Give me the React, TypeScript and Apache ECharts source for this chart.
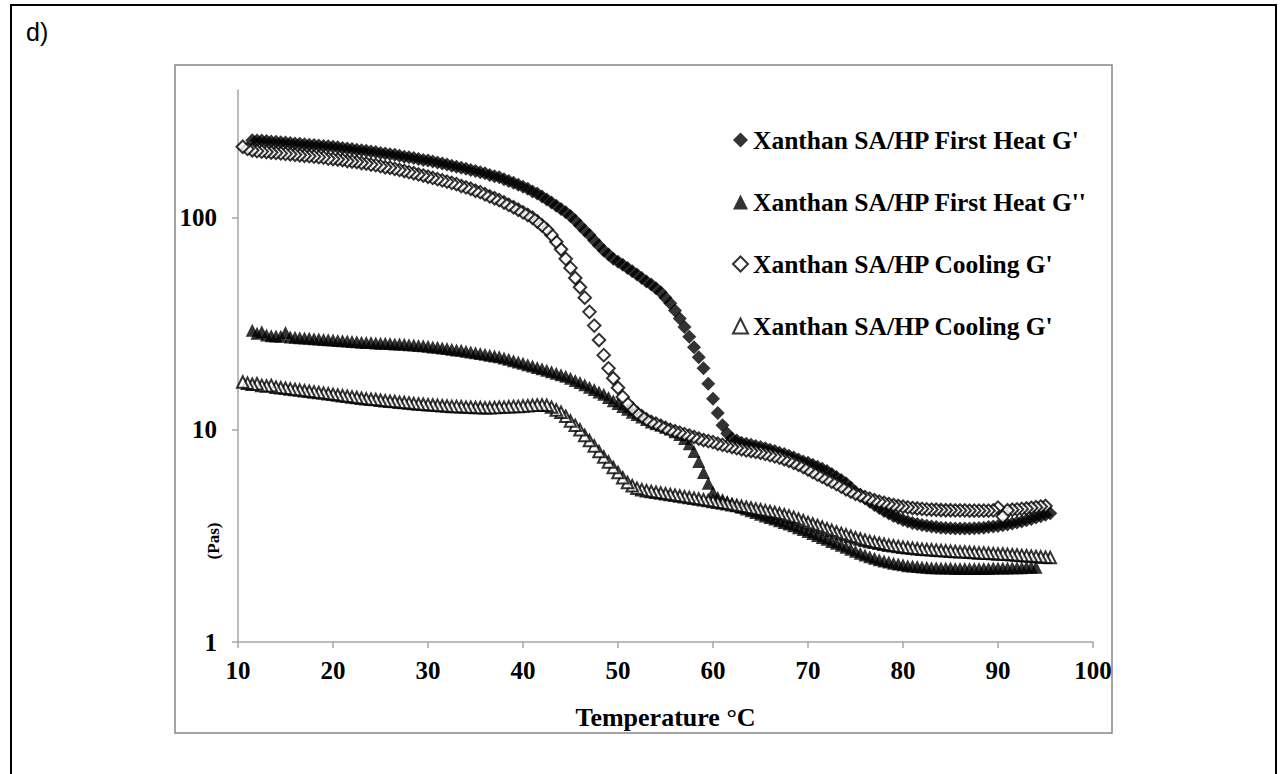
import { useEffect, useRef } from 'react';
import * as echarts from 'echarts';

// Temperature (°C) sampling points shared by all four series
const temperatures = [
  10.5, 11, 11.5, 12, 12.5, 13, 13.5, 14, 14.5, 15,
  15.5, 16, 16.5, 17, 17.5, 18, 18.5, 19, 19.5, 20,
  20.5, 21, 21.5, 22, 22.5, 23, 23.5, 24, 24.5, 25,
  25.5, 26, 26.5, 27, 27.5, 28, 28.5, 29, 29.5, 30,
  30.5, 31, 31.5, 32, 32.5, 33, 33.5, 34, 34.5, 35,
  35.5, 36, 36.5, 37, 37.5, 38, 38.5, 39, 39.5, 40,
  40.5, 41, 41.5, 42, 42.5, 43, 43.5, 44, 44.5, 45,
  45.5, 46, 46.5, 47, 47.5, 48, 48.5, 49, 49.5, 50,
  50.5, 51, 51.5, 52, 52.5, 53, 53.5, 54, 54.5, 55,
  55.5, 56, 56.5, 57, 57.5, 58, 58.5, 59, 59.5, 60,
  60.5, 61, 61.5, 62, 62.5, 63, 63.5, 64, 64.5, 65,
  65.5, 66, 66.5, 67, 67.5, 68, 68.5, 69, 69.5, 70,
  70.5, 71, 71.5, 72, 72.5, 73, 73.5, 74, 74.5, 75,
  75.5, 76, 76.5, 77, 77.5, 78, 78.5, 79, 79.5, 80,
  80.5, 81, 81.5, 82, 82.5, 83, 83.5, 84, 84.5, 85,
  85.5, 86, 86.5, 87, 87.5, 88, 88.5, 89, 89.5, 90,
  90.5, 91, 91.5, 92, 92.5, 93, 93.5, 94, 94.5, 95,
  95.5,
];

// Xanthan SA/HP First Heat G' (Pa s)
const firstHeatGp = [
  null, null, 232, 231, 231, 230, 229, 228, 227, 226,
  225, 224, 223, 222, 221, 220, 219, 218, 217, 216,
  215, 213, 212, 211, 209, 208, 207, 205, 204, 202,
  201, 199, 198, 196, 194, 193, 191, 189, 187, 186,
  184, 182, 180, 178, 176, 174, 172, 170, 168, 166,
  164, 162, 159, 157, 155, 152, 149, 146, 143, 140,
  137, 133, 130, 126, 122, 118, 114, 110, 106, 102,
  97, 92, 87, 83, 78, 74, 70, 67, 64, 62,
  60, 58, 56, 54, 52, 50, 48.5, 46.5, 44.5, 42,
  39.5, 36.5, 33.5, 30.5, 27.5, 24.5, 22, 19.5, 16.5, 14,
  12, 10.5, 9.6, 9.1, 8.9, 8.7, 8.6, 8.5, 8.4, 8.3,
  8.2, 8.05, 7.95, 7.8, 7.7, 7.55, 7.4, 7.25, 7.1, 7.0,
  6.85, 6.7, 6.55, 6.4, 6.2, 6.0, 5.8, 5.6, 5.35, 5.1,
  4.95, 4.75, 4.58, 4.42, 4.28, 4.15, 4.03, 3.93, 3.84, 3.76,
  3.7, 3.64, 3.6, 3.56, 3.53, 3.5, 3.48, 3.46, 3.45, 3.44,
  3.43, 3.43, 3.43, 3.43, 3.44, 3.45, 3.46, 3.48, 3.5, 3.52,
  3.55, 3.58, 3.62, 3.66, 3.7, 3.75, 3.8, 3.86, 3.92, 3.98,
  4.04,
];

// Xanthan SA/HP First Heat G'' (Pa s)
const firstHeatGpp = [
  null, null, 29.5, 28.5, 29.0, 28.0, 27.8, 27.7, 27.6, 28.8,
  27.4, 27.3, 27.2, 27.1, 27.0, 26.9, 26.8, 26.7, 26.6, 26.5,
  26.4, 26.3, 26.2, 26.1, 26.0, 25.9, 25.8, 25.8, 25.7, 25.6,
  25.6, 25.5, 25.4, 25.4, 25.3, 25.2, 25.1, 25.0, 24.9, 24.8,
  24.6, 24.5, 24.3, 24.2, 24.0, 23.8, 23.7, 23.5, 23.3, 23.1,
  22.9, 22.7, 22.5, 22.3, 22.1, 21.8, 21.5, 21.2, 20.9, 20.6,
  20.3, 20.0, 19.7, 19.4, 19.1, 18.8, 18.5, 18.2, 17.9, 17.5,
  17.1, 16.7, 16.3, 15.9, 15.5, 15.1, 14.7, 14.2, 13.7, 13.3,
  12.9, 12.5, 12.1, 11.8, 11.5, 11.2, 10.9, 10.7, 10.5, 10.3,
  10.1, 9.8, 9.5, 9.1, 8.6, 7.9, 7.1, 6.3, 5.6, 5.1,
  4.8, 4.7, 4.6, 4.5, 4.4, 4.32, 4.24, 4.16, 4.08, 4.0,
  3.93, 3.86, 3.8, 3.73, 3.66, 3.6, 3.53, 3.46, 3.39, 3.32,
  3.25, 3.18, 3.11, 3.05, 2.98, 2.92, 2.86, 2.8, 2.74, 2.68,
  2.62, 2.57, 2.52, 2.48, 2.44, 2.41, 2.38, 2.35, 2.33, 2.31,
  2.29, 2.28, 2.27, 2.26, 2.25, 2.24, 2.24, 2.23, 2.23, 2.23,
  2.22, 2.22, 2.22, 2.22, 2.22, 2.22, 2.22, 2.22, 2.23, 2.23,
  2.23, 2.23, 2.24, 2.24, 2.24, 2.25, 2.25, 2.25, null, null,
  null,
];

// Xanthan SA/HP Cooling G' (Pa s)
const coolingGp = [
  216, 211, 208, 206, 205, 204, 203, 202, 201, 200,
  199, 198, 197, 196, 195, 194, 193, 192, 190, 189,
  188, 187, 185, 184, 183, 181, 180, 178, 177, 175,
  173, 172, 170, 168, 166, 164, 162, 160, 158, 156,
  154, 152, 150, 148, 146, 144, 141, 139, 137, 134,
  132, 129, 126, 123.5, 121, 118, 115, 112, 109, 106,
  103, 100, 96, 92, 88, 83, 77, 71, 64, 58,
  52, 47, 42, 36, 31, 26.5, 22.5, 19.5, 17.5, 15.8,
  14.3, 13.3, 12.6, 12.0, 11.6, 11.2, 10.9, 10.7, 10.45, 10.2,
  10.0, 9.85, 9.7, 9.55, 9.4, 9.25, 9.1, 8.95, 8.85, 8.75,
  8.6, 8.5, 8.4, 8.3, 8.2, 8.1, 8.0, 7.95, 7.87, 7.8,
  7.7, 7.6, 7.5, 7.4, 7.27, 7.15, 7.0, 6.85, 6.68, 6.5,
  6.32, 6.15, 6.0, 5.85, 5.7, 5.55, 5.4, 5.25, 5.12, 5.0,
  4.9, 4.82, 4.74, 4.66, 4.59, 4.53, 4.47, 4.42, 4.38, 4.34,
  4.31, 4.28, 4.26, 4.24, 4.22, 4.21, 4.2, 4.19, 4.18, 4.18,
  4.17, 4.17, 4.17, 4.16, 4.16, 4.16, 4.16, 4.16, 4.17, 4.3,
  3.9, 4.18, 4.2, 4.22, 4.24, 4.26, 4.29, 4.32, 4.35, 4.38,
  null,
];

// Xanthan SA/HP Cooling G'' (Pa s) — labelled "Cooling G'" in the original legend
const coolingGpp = [
  16.8, 16.6, 16.4, 16.5, 16.2, 16.1, 16.2, 15.9, 15.8, 15.7,
  15.6, 15.5, 15.4, 15.3, 15.2, 15.1, 15.0, 14.9, 14.8, 14.7,
  14.6, 14.5, 14.4, 14.3, 14.2, 14.1, 14.0, 13.95, 13.9, 13.8,
  13.7, 13.65, 13.6, 13.5, 13.45, 13.4, 13.3, 13.25, 13.2, 13.15,
  13.1, 13.05, 13.0, 12.95, 12.9, 12.9, 12.85, 12.8, 12.8, 12.75,
  12.75, 12.7, 12.7, 12.75, 12.8, 12.8, 12.85, 12.9, 12.9, 12.95,
  13.0, 13.05, 13.1, 13.1, 13.05, 12.8, 12.4, 12.1, 11.6, 11.0,
  10.5, 10.0, 9.4, 8.9, 8.4, 7.9, 7.45, 7.05, 6.65, 6.3,
  5.95, 5.65, 5.45, 5.3, 5.22, 5.17, 5.12, 5.08, 5.04, 5.0,
  4.96, 4.92, 4.88, 4.84, 4.8, 4.76, 4.72, 4.68, 4.64, 4.6,
  4.56, 4.52, 4.48, 4.44, 4.4, 4.36, 4.32, 4.28, 4.24, 4.2,
  4.16, 4.12, 4.08, 4.03, 3.98, 3.93, 3.87, 3.8, 3.73, 3.66,
  3.6, 3.54, 3.48, 3.42, 3.36, 3.3, 3.25, 3.2, 3.15, 3.1,
  3.06, 3.02, 2.98, 2.95, 2.92, 2.89, 2.86, 2.84, 2.82, 2.8,
  2.78, 2.77, 2.75, 2.74, 2.73, 2.72, 2.71, 2.7, 2.69, 2.68,
  2.67, 2.66, 2.66, 2.65, 2.64, 2.63, 2.63, 2.62, 2.61, 2.6,
  2.6, 2.59, 2.58, 2.57, 2.56, 2.55, 2.54, 2.53, 2.52, 2.51,
  2.5,
];

const seriesKeys = ['fhGp', 'fhGpp', 'coGp', 'coGpp'];
const legendLabels = [
  "Xanthan SA/HP First Heat G'",
  "Xanthan SA/HP First Heat G''",
  "Xanthan SA/HP Cooling G'",
  "Xanthan SA/HP Cooling G'",
];
const yTickValues = [1, 10, 100];
const xAxisTitle = 'Temperature °C';
const yAxisTitle = '(Pas)';
const panelLabel = 'd)';

const SERIF = '"Liberation Serif", "Times New Roman", serif';

function toPairs(values: (number | null)[], reverse: boolean) {
  const out: [number, number][] = [];
  temperatures.forEach((t, i) => {
    const v = values[i];
    if (v != null) out.push([t, v]);
  });
  return reverse ? out.reverse() : out;
}

export default function App() {
  const ref = useRef<HTMLDivElement>(null);

  useEffect(() => {
    if (!ref.current) return;
    const chart = echarts.init(ref.current, null, { renderer: 'svg' });
    const labelMap: Record<string, string> = {};
    seriesKeys.forEach((k, i) => (labelMap[k] = legendLabels[i]));

    const filled = { color: '#000' };
    const open = { color: '#fff', borderColor: '#000', borderWidth: 2 };

    chart.setOption({
      animation: false,
      backgroundColor: '#fff',
      textStyle: { fontFamily: SERIF },
      grid: { left: 238, right: 193, top: 90, bottom: 132, containLabel: false },
      xAxis: {
        type: 'value',
        min: 10,
        max: 100,
        interval: 10,
        axisLine: { show: true, lineStyle: { color: '#a6a6a6', width: 1.5 } },
        axisTick: { show: true, length: 6, lineStyle: { color: '#a6a6a6', width: 1.5 } },
        axisLabel: {
          color: '#000',
          fontSize: 25,
          fontWeight: 'bold',
          fontFamily: SERIF,
          margin: 16,
        },
        splitLine: { show: false },
        name: xAxisTitle,
        nameLocation: 'middle',
        nameGap: 62,
        nameTextStyle: { color: '#000', fontSize: 26, fontWeight: 'bold', fontFamily: SERIF },
      },
      yAxis: {
        type: 'log',
        logBase: 10,
        min: 1,
        max: 400,
        axisLine: { show: true, lineStyle: { color: '#a6a6a6', width: 1.5 } },
        axisTick: { show: true, length: 6, customValues: yTickValues, lineStyle: { color: '#a6a6a6', width: 1.5 } },
        axisLabel: {
          customValues: yTickValues,
          color: '#000',
          fontSize: 25,
          fontWeight: 'bold',
          fontFamily: SERIF,
          margin: 21,
        },
        splitLine: { show: false },
        minorTick: { show: false },
      },
      legend: {
        orient: 'vertical',
        left: 727,
        top: 122,
        itemWidth: 15,
        itemHeight: 15,
        itemGap: 36,
        data: seriesKeys,
        formatter: (name: string) => labelMap[name],
        textStyle: { fontFamily: SERIF, fontWeight: 'bold', fontSize: 25.5, color: '#000', lineHeight: 25 },
        selectedMode: false,
      },
      graphic: [
        {
          type: 'rect',
          shape: { x: 11, y: 5, width: 1265, height: 800 },
          style: { fill: 'transparent', stroke: '#000', lineWidth: 2 },
          silent: true,
        },
        {
          type: 'rect',
          shape: { x: 175, y: 65, width: 937, height: 668 },
          style: { fill: 'transparent', stroke: '#878787', lineWidth: 1.5 },
          silent: true,
        },
        {
          type: 'text',
          x: 26,
          y: 32,
          style: {
            text: panelLabel,
            fill: '#000',
            font: '25px "Liberation Sans", Arial, sans-serif',
            verticalAlign: 'middle',
          },
        },
        {
          type: 'text',
          x: 213,
          y: 541,
          rotation: Math.PI / 2,
          style: {
            text: yAxisTitle,
            fill: '#000',
            font: 'bold 17px "Liberation Serif", serif',
            align: 'center',
            verticalAlign: 'middle',
          },
        },
      ],
      series: [
        { name: 'fhGp', type: 'scatter', symbol: 'diamond', symbolSize: 14, itemStyle: filled, data: toPairs(firstHeatGp, false), silent: true },
        { name: 'fhGpp', type: 'scatter', symbol: 'triangle', symbolSize: 13, itemStyle: filled, data: toPairs(firstHeatGpp, false), silent: true },
        { name: 'coGp', type: 'scatter', symbol: 'diamond', symbolSize: 12.5, itemStyle: open, data: toPairs(coolingGp, true), silent: true },
        { name: 'coGpp', type: 'scatter', symbol: 'triangle', symbolSize: 11.5, itemStyle: open, data: toPairs(coolingGpp, true), silent: true },
      ],
    });

    return () => chart.dispose();
  }, []);

  return (
    <div
      ref={ref}
      style={{ position: 'fixed', left: 0, top: 0, width: 1286, height: 774, background: '#fff' }}
    />
  );
}
